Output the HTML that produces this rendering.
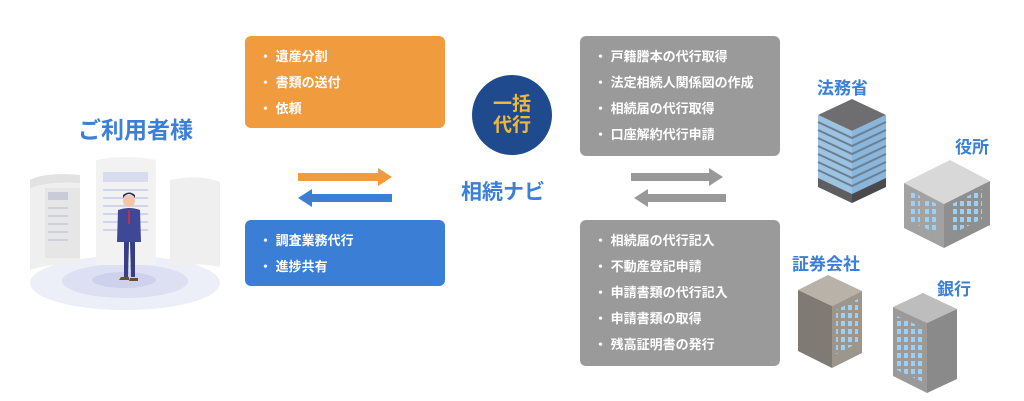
<!DOCTYPE html>
<html><head><meta charset="utf-8"><style>
body{margin:0;width:1024px;height:401px;background:#fff;position:relative;overflow:hidden;font-family:"Liberation Sans","Noto Sans CJK JP",sans-serif;}
.box{position:absolute;border-radius:6px;color:#fff;font-weight:bold;font-size:13px;}
.box div{position:absolute;left:14px;white-space:nowrap}
.lbl{position:absolute;color:#3a7fd8;font-weight:bold;white-space:nowrap}
</style></head><body>
<div class="box" style="left:245px;top:36px;width:200px;height:92px;background:#f09c3e">
<div style="top:10px">・ 遺産分割</div><div style="top:36px">・ 書類の送付</div><div style="top:62px">・ 依頼</div></div>
<div class="box" style="left:245px;top:220px;width:200px;height:66px;background:#3a7fd5">
<div style="top:10px">・ 調査業務代行</div><div style="top:36px">・ 進捗共有</div></div>
<div class="box" style="left:580px;top:36px;width:200px;height:120px;background:#9a9a9a">
<div style="top:10px">・ 戸籍謄本の代行取得</div><div style="top:36px">・ 法定相続人関係図の作成</div><div style="top:62px">・ 相続届の代行取得</div><div style="top:88px">・ 口座解約代行申請</div></div>
<div class="box" style="left:580px;top:220px;width:200px;height:146px;background:#9a9a9a">
<div style="top:10px">・ 相続届の代行記入</div><div style="top:36px">・ 不動産登記申請</div><div style="top:62px">・ 申請書類の代行記入</div><div style="top:88px">・ 申請書類の取得</div><div style="top:114px">・ 残高証明書の発行</div></div>
<div style="position:absolute;left:472px;top:75px;width:80px;height:80px;border-radius:50%;background:#1f4b8e;color:#f0b73e;font-weight:bold;font-size:19px;line-height:21px;text-align:center;padding-top:19px;box-sizing:border-box">一括<br>代行</div>
<div class="lbl" style="left:461px;top:176px;font-size:21px">相続ナビ</div>
<div class="lbl" style="left:78px;top:111px;font-size:23px">ご利用者様</div>
<div class="lbl" style="left:817px;top:74px;font-size:17px">法務省</div>
<div class="lbl" style="left:955px;top:133px;font-size:17px">役所</div>
<div class="lbl" style="left:792px;top:250px;font-size:17px">証券会社</div>
<div class="lbl" style="left:937px;top:275px;font-size:17px">銀行</div>
<svg width="1024" height="401" style="position:absolute;left:0;top:0">
<defs>
<pattern id="win" width="7" height="8" patternUnits="userSpaceOnUse"><rect x="1" y="1" width="4" height="5" fill="#9fd0f2"/></pattern>
</defs>
<!-- arrows -->
<path d="M298 173h80v-5l14 9-14 9v-5h-80z" fill="#f09c3e"/>
<path d="M392 194h-80v-5l-14 9 14 9v-5h80z" fill="#3a7fd5"/>
<path d="M631 173h78v-5l14 9-14 9v-5h-78z" fill="#999"/>
<path d="M726 194h-78v-5l-14 9 14 9v-5h78z" fill="#999"/>
<!-- user illustration -->
<ellipse cx="125" cy="283" rx="95" ry="27" fill="#eceef8"/>
<ellipse cx="125" cy="281" rx="63" ry="17" fill="#dde0f2"/>
<ellipse cx="124" cy="280" rx="32" ry="8" fill="#cdd1ec"/>
<path d="M30 180q15-8 50-5v90q-30-2-50 5z" fill="#efefef"/>
<path d="M45 188h35v70h-35z" fill="#e6e6e6"/>
<rect x="48" y="192" width="20" height="8" fill="#c9ccd8"/>
<g stroke="#c5c9da" stroke-width="1.5"><path d="M48 208h20M48 216h20M48 224h20M48 232h20M48 240h20"/></g>
<path d="M96 160q30-6 60 0v105h-60z" fill="#f2f2f2"/>
<rect x="103" y="172" width="45" height="10" fill="#d7dcef"/>
<g stroke="#c5cbe3" stroke-width="1.5"><path d="M103 190h45M103 198h45M103 206h45M103 214h45M103 222h45M103 230h45"/></g>
<path d="M170 180q30-6 50 2v85q-20-5-50 0z" fill="#efefef"/>
<path d="M30 180q15-8 50-5v8q-30-2-50 5z" fill="#e2e2e2"/>
<!-- person -->
<circle cx="129" cy="201" r="6" fill="#f2c6a8"/>
<path d="M123 198q6-8 12 0v-3q-6-5-12 0z" fill="#2b2f55"/>
<path d="M118 210q11-4 22 0l1 32h-24z" fill="#3f4896"/>
<path d="M128 210h2v14h-2z" fill="#c0304a"/>
<path d="M124 242h5l-1 35h-4zM130 242h5l0 35h-4z" fill="#363f85"/>
<path d="M121 277h8v3h-10zM130 278h8v3h-9z" fill="#6b4e30"/>
<!-- 法務省 building -->
<path d="M818 115l34-16 34 16-34 16z" fill="#6e6e70"/>
<path d="M818 115l34 16v72l-34-16z" fill="#9cc4e2"/>
<path d="M852 131l34-16v72l-34 16z" fill="#8ab6dc"/>
<g stroke="#6b7e92" stroke-width="2" fill="none"><path d="M818 122l34 16 34-16M818 130l34 16 34-16M818 138l34 16 34-16M818 146l34 16 34-16M818 154l34 16 34-16M818 162l34 16 34-16M818 170l34 16 34-16"/></g>
<path d="M818 178l34 16v9l-34-16z" fill="#5e5e60"/><path d="M852 194l34-16v9l-34 16z" fill="#4a4a4c"/>
<!-- 役所 -->
<path d="M904 183l46-23 40 21-46 23z" fill="#d8d8d8"/>
<path d="M904 183l40 21v44l-40-20z" fill="#a2a2a2"/>
<path d="M944 204l46-23v44l-46 23z" fill="#8f8f8f"/>
<path d="M908 190l12 6v30l-12-6zM925 198l14 7v30l-14-7zM952 204l30-15v30l-30 15z" fill="url(#win)"/>
<!-- 証券会社 -->
<path d="M798 290l30-15 34 16-30 15z" fill="#b9b2a8"/>
<path d="M798 290l34 16v62l-34-17z" fill="#7f7a73"/>
<path d="M832 306l30-15v62l-30 15z" fill="#9d968d"/>
<path d="M836 310l22-11v44l-22 11z" fill="url(#win)"/>
<!-- 銀行 -->
<path d="M893 307l30-14 34 16-30 14z" fill="#bdbdbd"/>
<path d="M893 307l34 16v70l-34-17z" fill="#9a9a9a"/>
<path d="M927 323l30-14v70l-30 14z" fill="#8a8a8a"/>
<path d="M897 316l26 12v54l-26-12z" fill="url(#win)"/>
</svg>
</body></html>
